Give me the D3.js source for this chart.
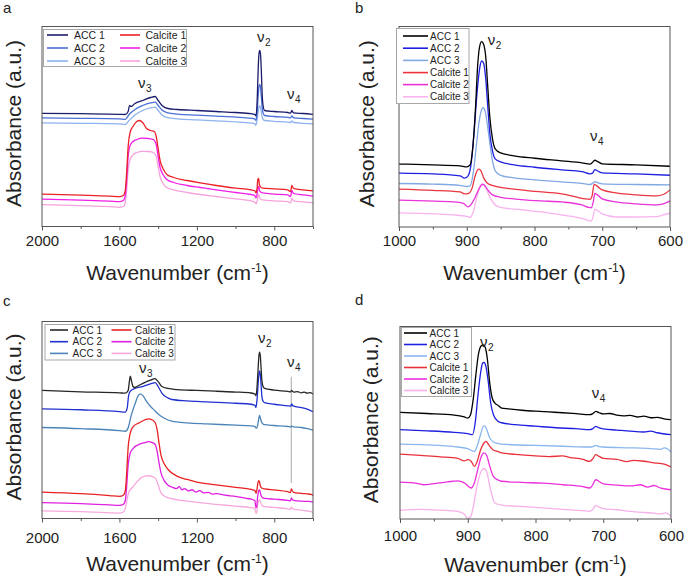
<!DOCTYPE html>
<html><head><meta charset="utf-8">
<script src="https://cdn.jsdelivr.net/npm/d3@7"></script>
<style>
body{margin:0;background:#fff}
svg{display:block}
text{font-family:"Liberation Sans",Arial,Helvetica,sans-serif;fill:#222}
</style>
</head><body>
<svg id="chart" width="685" height="582"></svg>
<script>
// ---------------- DATA ----------------
const seriesNames = ["ACC 1","ACC 2","ACC 3","Calcite 1","Calcite 2","Calcite 3"];
const ticksWide = [2000,1600,1200,800];
const minorWide = [1800,1400,1000,600];
const ticksNarrow = [1000,900,800,700,600];
const minorNarrow = [950,850,750,650];

// Panel a  [wavenumber, absorbance (a.u.)]
const a_ACC1 = [[2000,56.6],[1800,56.4],[1600,56.1],[1570,56],[1555,57.5],[1548,60.5],[1540,60],[1520,61.5],[1480,63],[1440,64.5],[1415,65],[1400,63],[1380,60.5],[1350,59],[1300,58.5],[1200,58],[1100,57.5],[1000,57],[920,56.4],[900,56],[895,55.3],[891,58],[887,67],[883,79],[879,86.5],[875,88],[871,86],[867,78],[863,67],[858,60.5],[850,58],[800,57.5],[730,57],[715,56.7],[710,58],[706,57.5],[700,56.8],[650,56.5],[600,56.1]];
const a_ACC2 = [[2000,54.3],[1800,54.1],[1600,53.8],[1570,53.6],[1550,56],[1520,58.5],[1480,60.5],[1440,61.8],[1415,62.2],[1400,60.5],[1380,58.2],[1350,56.8],[1300,56.2],[1200,55.7],[1100,55.2],[1000,54.7],[920,54.1],[900,53.7],[895,53],[891,55],[887,59.5],[883,65.5],[879,70],[875,71],[871,69.5],[867,65],[863,60],[858,56.8],[850,55.5],[800,55],[730,54.6],[715,54.3],[710,55.3],[706,55],[700,54.3],[650,54],[600,53.7]];
const a_ACC3 = [[2000,51.8],[1800,51.6],[1600,51.3],[1570,51],[1550,53],[1520,55.8],[1480,58],[1440,59.3],[1415,59.7],[1400,58],[1380,55.8],[1350,54.4],[1300,53.8],[1200,53.3],[1100,52.8],[1000,52.3],[920,51.7],[900,51.3],[895,50.6],[891,52],[887,54.5],[883,57.5],[879,59.8],[875,60.3],[871,59.5],[867,57],[863,55],[858,53.6],[850,53],[800,52.6],[730,52.2],[715,52],[710,52.8],[706,52.5],[700,52],[650,51.6],[600,51.3]];
const a_Cal1 = [[2000,16.2],[1800,15.7],[1650,15.2],[1600,14.9],[1580,15.5],[1570,18],[1562,28],[1555,40],[1545,47],[1530,50],[1510,52.5],[1497,53],[1480,52],[1460,49],[1440,48],[1420,47.5],[1410,45],[1400,39],[1390,33],[1375,29],[1355,26],[1320,24.5],[1250,23],[1183,21.8],[1100,20.5],[1000,19.2],[920,18.3],[900,17.8],[894,16.8],[889,19],[885,23.5],[881,24],[877,21],[871,19.8],[860,19.2],[800,18.8],[730,18.3],[718,17.5],[714,18],[710,20.5],[706,20],[700,19],[650,18.3],[600,17.8]];
const a_Cal2 = [[2000,13.7],[1800,13.2],[1650,12.7],[1600,12.4],[1580,13],[1570,15.5],[1562,24],[1555,35],[1545,40.5],[1530,42.5],[1510,43.5],[1480,44.2],[1450,44],[1425,43.5],[1410,41],[1400,35],[1390,29.5],[1375,26],[1355,23.5],[1320,22],[1250,20.5],[1183,19.5],[1100,18.3],[1000,17],[920,16],[900,15.3],[894,14.3],[889,16],[884,19.5],[880,20],[876,18],[870,17.2],[860,16.8],[800,16.2],[730,15.8],[718,15],[714,15.5],[710,18],[706,17.5],[700,16.5],[650,15.8],[600,15.2]];
const a_Cal3 = [[2000,10.9],[1800,10.4],[1650,9.9],[1600,9.6],[1580,10],[1570,12],[1562,19],[1555,28],[1545,33.5],[1530,35.8],[1510,37],[1480,37.6],[1450,37.5],[1425,37],[1410,35],[1400,30],[1390,25],[1375,21.5],[1355,19.5],[1320,18.3],[1250,17],[1183,16],[1100,15],[1000,13.8],[920,12.8],[900,12.2],[894,11.3],[889,12.5],[884,15],[880,16],[876,14.5],[870,13.6],[860,13.3],[800,12.8],[730,12.4],[718,11.8],[714,12.2],[710,14],[706,13.6],[700,12.8],[650,12.3],[600,11.8]];

// Panel b
const b_ACC1 = [[1000,31.4],[950,31],[910,30.5],[900,30],[895,31],[891,40],[887,60],[884,80],[881,90],[878,92.5],[875,91],[872,85],[869,70],[866,55],[862,44],[858,39],[850,37],[830,35.5],[800,34.3],[760,33],[730,32],[718,31.4],[715,32],[711,33.3],[706,32.5],[700,31.5],[650,31],[600,30.3]];
const b_ACC2 = [[1000,26.9],[950,26.5],[910,25.5],[903,24.4],[898,25.5],[893,33],[889,48],[885,66],[881,79],[878,82.8],[875,81.5],[872,74],[869,60],[866,47],[862,38],[858,34],[850,32.5],[830,31],[800,29.8],[760,28.5],[730,27.6],[718,26.5],[714,27],[711,28.6],[706,27.8],[700,27],[650,26.5],[600,25.8]];
const b_ACC3 = [[1000,21.7],[950,21.4],[910,20.8],[900,20.2],[895,20.5],[890,28],[886,40],[882,52],[878,58.5],[876,59.5],[873,58],[870,52],[866,42],[862,33],[858,28],[850,25.8],[830,24.5],[800,23.5],[760,22.5],[730,21.8],[718,21.2],[714,21.8],[711,22.6],[706,22],[700,21.5],[650,21.2],[600,21]];
const b_Cal1 = [[1000,18.9],[950,18.3],[910,17.5],[903,16.5],[897,16.8],[892,19.5],[888,25],[884,28.5],[882,28.9],[879,28],[875,24.5],[870,22],[860,20.5],[840,19.3],[800,17.8],[760,16.5],[735,14.7],[725,14],[718,13.8],[715,15.5],[712,21.3],[708,20.5],[700,18.5],[680,17],[650,16],[620,15.5],[610,16.2],[600,18.5]];
const b_Cal2 = [[1000,13.4],[960,13],[920,12.5],[905,11.8],[898,10],[893,11.5],[888,14.5],[882,19],[877,21.4],[874,21],[870,19],[862,16],[850,14.8],[820,13.7],[790,13],[760,12.5],[730,11],[720,9.8],[716,9.6],[713,13],[711,16.7],[707,16],[700,14],[680,12.5],[650,11.5],[620,11],[610,11.5],[600,13]];
const b_Cal3 = [[1000,7],[960,6.7],[920,6],[900,5.3],[895,4.8],[890,8],[885,15],[880,20],[876,21],[872,19.5],[866,15],[858,11],[850,9.8],[820,8.6],[790,7.5],[760,6],[730,4.3],[720,3.2],[716,3],[713,6],[711,8.9],[706,8],[700,6.5],[680,5],[650,5],[620,5.2],[610,6],[600,7]];

// Panel c
const c_ACC1 = [[2000,65],[1800,64.3],[1600,63.8],[1570,63.6],[1555,65],[1548,70],[1544,72.3],[1538,70],[1530,67],[1520,66.5],[1500,67.5],[1470,69],[1440,70.2],[1417,71],[1400,69.5],[1380,67],[1350,66],[1300,65.4],[1200,65],[1100,64.6],[1000,64.2],[920,63.7],[900,63.2],[895,62.4],[891,64.5],[887,70],[883,77],[879,83],[876,84.5],[872,82.5],[868,76],[864,70],[858,67],[850,66],[800,65.2],[730,64.5],[715,64.3],[711,65],[706,64.6],[700,64.2],[680,64.4],[660,63.8],[645,64.2],[630,63.6],[615,63.9],[600,63.2]];
const c_ACC2 = [[2000,55.7],[1800,55.2],[1600,54.3],[1570,54],[1560,56],[1553,62],[1545,64.5],[1520,66],[1480,67],[1440,68.3],[1415,69],[1400,67],[1380,63.5],[1350,61.2],[1330,60.4],[1250,59.7],[1150,59.2],[1000,58.5],[920,58],[900,57.5],[895,56.3],[891,58.5],[887,63],[883,69],[879,73.5],[876,74.9],[872,73],[868,67.5],[864,62],[858,59.5],[850,58.8],[800,58],[730,57.2],[715,57],[711,58.2],[706,57.5],[700,57],[660,56.3],[630,55.5],[600,54.2]];
const c_ACC3 = [[2000,46.2],[1800,45.6],[1600,44.6],[1570,44.3],[1555,46],[1540,52],[1520,58],[1505,62],[1494,63.3],[1480,62.5],[1460,59.5],[1440,57],[1420,55],[1400,53],[1370,51],[1330,49.4],[1250,48.5],[1150,48],[1000,47.4],[920,47],[900,46.6],[893,45.8],[888,46.5],[883,49],[879,51.5],[876,52.3],[872,51],[866,49],[858,48],[850,47.6],[800,47.2],[730,46.7],[715,46.5],[711,47],[706,46.7],[700,46.5],[660,46.2],[630,45.6],[600,44.8]];
const c_Cal1 = [[2000,13.4],[1800,12.6],[1650,11.6],[1600,11.2],[1580,11.8],[1570,14],[1562,24],[1555,36],[1545,43],[1530,46.5],[1500,48.5],[1470,50],[1450,50.6],[1430,50],[1415,48.6],[1405,45],[1395,38],[1385,32],[1370,28],[1350,25],[1300,21.4],[1250,19.8],[1200,18.5],[1100,17.1],[1000,15.8],[920,14.8],[900,14.2],[894,12.8],[889,15],[885,18],[880,19.2],[876,18.5],[872,16.5],[865,15.5],[850,15],[800,14.5],[730,13.6],[716,13.2],[712,15],[708,14.3],[700,13.3],[660,12.8],[630,12.5],[610,12.3],[600,11.7]];
const c_Cal2 = [[2000,8.1],[1800,7.6],[1650,6.9],[1600,6.7],[1580,7.2],[1570,9],[1562,17],[1555,27],[1545,33],[1530,35.5],[1500,37.5],[1470,38.5],[1450,39],[1430,38.5],[1415,37.5],[1405,34],[1395,28],[1385,23],[1370,19.5],[1350,17],[1330,16],[1305,15.2],[1290,16.2],[1278,14.6],[1262,15.2],[1245,14],[1225,14.6],[1205,13.4],[1185,14.1],[1165,13],[1140,13.3],[1120,12.4],[1100,12.6],[1050,11.8],[1000,11.2],[950,10.3],[920,9.8],[900,9],[895,5.5],[891,6],[887,10],[882,13.5],[877,14.6],[873,13.5],[868,11.5],[860,10.5],[850,10.2],[800,9.8],[730,9.2],[716,8.9],[712,10.5],[708,9.8],[700,9.2],[660,8.8],[630,8.7],[610,8.6],[600,8.3]];
const c_Cal3 = [[2000,3.9],[1800,3.5],[1650,2.9],[1600,2.7],[1580,3.3],[1570,5],[1560,10],[1550,13.8],[1535,15.5],[1510,18.5],[1490,20.5],[1470,21.5],[1450,21.7],[1430,21.3],[1415,20.5],[1405,18.5],[1395,15.5],[1385,13],[1370,11.5],[1340,10.3],[1300,9.5],[1250,8.8],[1200,8.2],[1100,7.2],[1000,6.3],[920,5.5],[900,5.2],[895,2.7],[891,3],[887,6],[882,8.8],[877,9.5],[872,8.5],[866,7],[858,6.3],[850,6],[800,5.6],[730,4.9],[716,4.6],[712,5.9],[708,5.3],[700,4.8],[660,4.2],[630,3.8],[610,3.5],[600,3.1]];
const c_marker = [[712,18],[712,72]];

// Panel d
const d_ACC1 = [[1000,55.4],[960,54.8],[920,54],[905,53],[900,52.4],[896,54],[892,62],[888,75],[884,86],[880,90],[877,90.5],[874,89],[871,83],[868,72],[864,63],[860,60.2],[855,59],[850,57.6],[840,57.2],[820,56.5],[800,56],[780,55.6],[760,55.2],[740,54.7],[720,54.2],[716,54.6],[711,55.9],[706,55.2],[700,54.6],[690,54.8],[680,54],[670,53.6],[660,53.8],[650,53],[640,53.4],[630,52.6],[620,52.8],[610,52],[600,51.6]];
const d_ACC2 = [[1000,46.4],[960,45.8],[920,45],[900,44.4],[893,43.8],[889,50],[885,64],[881,76],[878,81],[876,81.3],[873,79],[870,72],[866,60],[862,54],[855,50.7],[850,50],[830,49],[800,48.2],[770,47.4],[740,46.9],[720,46.4],[716,46.8],[711,48.1],[706,47.3],[700,46.8],[680,46.2],[660,45.6],[640,45.2],[630,45.6],[620,44.8],[600,43.8]];
const d_ACC3 = [[1000,38.9],[960,38.5],[920,37.6],[900,36.5],[890,35.1],[886,38],[881,44],[877,48.2],[875,48.4],[872,46.5],[868,42.5],[862,40],[855,39.2],[840,38.7],[800,38.2],[760,37.8],[720,37.4],[716,37.5],[711,38.2],[706,37.6],[700,37.4],[660,37],[630,36.6],[615,36.2],[610,37],[605,36.4],[600,34.8]];
const d_Cal1 = [[1000,33.7],[970,33],[940,32.3],[915,31.5],[905,30.2],[900,30.8],[895,30],[890,27.3],[886,30],[881,36],[876,39.5],[873,40.3],[869,38.5],[863,36],[855,35],[850,34.3],[830,33.6],[800,32.8],[780,32.4],[760,32.8],[750,32],[730,31],[720,29.9],[716,31],[711,33.4],[706,32.5],[700,31.5],[680,31],[665,29.8],[655,30.5],[640,30],[625,29.2],[610,28.5],[600,27]];
const d_Cal2 = [[1000,19.2],[980,18.8],[965,17.8],[950,18.4],[930,19.3],[915,19.8],[905,18.8],[895,16.1],[890,19],[885,26],[880,32.5],[876,34.3],[872,33],[868,28],[862,22],[855,20.2],[850,19.6],[820,19],[790,18.6],[760,17.8],[730,16.8],[720,16.1],[716,17.5],[711,20.4],[706,19.5],[700,18.2],[680,17.6],[660,17.2],[645,17.8],[635,16.6],[625,17.4],[615,16],[600,15.2]];
const d_Cal3 = [[1000,4.5],[970,5],[940,4.6],[915,4],[905,2.5],[900,0.3],[896,1],[892,6],[888,14],[883,22],[879,25.5],[876,26.1],[872,24.5],[868,18],[864,12],[860,8.3],[850,7.2],[820,6.5],[790,5.8],[760,5],[730,4.3],[720,4],[716,4.8],[711,6.9],[706,6.2],[700,5.4],[680,4.8],[660,4],[640,3.4],[625,3],[615,2.6],[608,3.2],[600,1.4]];

// band labels [wavenumber, absorbance, subscript]
const a_bands = [[889,92.5,"2"],[1504,69.5,"3"],[734,64,"4"]];
const b_bands = [[869,90.7,"2"],[718,43,"4"]];
const c_bands = [[884,89,"2"],[1499,74,"3"],[734,77,"4"]];
const d_bands = [[882,89.4,"2"],[717,63,"4"]];

// ---------------- LAYOUT / STYLE ----------------
const panels = [
  {letter:"a", lx:3, ly:13, l:42, r:313, t:26.5, b:226.5, dom:[2000,600], ticks:ticksWide, minor:minorWide,
   series:[a_ACC1,a_ACC2,a_ACC3,a_Cal1,a_Cal2,a_Cal3],
   colors:["#1c1c6c","#4a6fd6","#8db2ee","#ec2027","#f01ee6","#f6a3dd"],
   bands:a_bands, ytx:21, xtb:280, tlb:245.5,
   legend:{x:43.5,y:29.5,w:143,h:37, cols:2, rows:[35,48,61], colX:[[47,68,74],[120,140,145.5]], fs:10.5}},
  {letter:"b", lx:355, ly:13, l:399, r:670, t:26.5, b:227, dom:[1000,600], ticks:ticksNarrow, minor:minorNarrow,
   series:[b_ACC1,b_ACC2,b_ACC3,b_Cal1,b_Cal2,b_Cal3],
   colors:["#000000","#1f1fe0","#80a8e2","#ea3440","#e833d8","#f7b4ee"],
   bands:b_bands, ytx:374, xtb:280, tlb:246,
   legend:{x:396.5,y:28.5,w:72.5,h:75, cols:1, rows:[36,48.2,60.4,72.6,84.6,96.8], colX:[[403,428,430]], fs:10}},
  {letter:"c", lx:3, ly:306, l:42, r:313, t:321.5, b:518.5, dom:[2000,600], ticks:ticksWide, minor:minorWide,
   series:[c_ACC1,c_ACC2,c_ACC3,c_Cal1,c_Cal2,c_Cal3],
   colors:["#262626","#2030d0","#4b84b8","#e82222","#e020e0","#f7a8dc"],
   bands:c_bands, marker:c_marker, ytx:21, xtb:571, tlb:543,
   legend:{x:45,y:324.5,w:130,h:35.5, cols:2, rows:[330,341.7,353.4], colX:[[50,68,72.5],[111.5,131.5,135]], fs:10}},
  {letter:"d", lx:355, ly:305, l:400, r:671, t:326.5, b:519, dom:[1000,600], ticks:ticksNarrow, minor:minorNarrow,
   series:[d_ACC1,d_ACC2,d_ACC3,d_Cal1,d_Cal2,d_Cal3],
   colors:["#000000","#1f1fe0","#8ab6ee","#e8303a","#ec30dc","#f6b0ea"],
   bands:d_bands, ytx:378, xtb:572, tlb:541,
   legend:{x:401.5,y:327.5,w:70,h:69, cols:1, rows:[333,344.5,356,367.5,379,390.5], colX:[[404,427,429.5]], fs:10}}
];

const svg = d3.select("#chart");
const axisColor = "#555";

panels.forEach(p => {
  const x = d3.scaleLinear().domain(p.dom).range([p.l, p.r]);
  const y = d3.scaleLinear().domain([0,100]).range([p.b, p.t]);
  const g = svg.append("g");

  g.append("text").attr("x", p.lx).attr("y", p.ly).attr("font-size", 15).text(p.letter);

  const cid = "clip" + p.letter;
  svg.append("clipPath").attr("id", cid).append("rect")
    .attr("x", p.l).attr("y", p.t).attr("width", p.r - p.l).attr("height", p.b - p.t);

  if (p.marker) {
    g.append("path").attr("d", d3.line().x(d => x(d[0])).y(d => y(d[1]))(p.marker))
      .attr("stroke", "#b8b8b8").attr("stroke-width", 1.2).attr("fill", "none");
  }

  const line = d3.line().x(d => x(d[0])).y(d => y(d[1])).curve(d3.curveMonotoneX);
  const lg = g.append("g").attr("clip-path", `url(#${cid})`);
  p.series.map((s,i)=>({s,i})).reverse().forEach(({s,i}) => {
    lg.append("path").attr("d", line(s)).attr("fill", "none")
      .attr("stroke", p.colors[i]).attr("stroke-width", 1.3).attr("stroke-linejoin", "round");
  });

  g.append("rect").attr("x", p.l).attr("y", p.t).attr("width", p.r - p.l).attr("height", p.b - p.t)
    .attr("fill", "none").attr("stroke", axisColor).attr("stroke-width", 1);

  const ax = g.append("g").attr("transform", `translate(0,${p.b})`)
    .call(d3.axisBottom(x).tickValues(p.ticks).tickSize(4).tickSizeOuter(0).tickPadding(3).tickFormat(d3.format("d")));
  ax.select(".domain").remove();
  ax.selectAll("line").attr("stroke", axisColor);
  ax.selectAll("text").attr("font-size", 15).attr("fill", "#222")
    .attr("font-family", '"Liberation Sans",Arial,sans-serif')
    .attr("dy", null).attr("y", p.tlb - p.b);
  const mx = g.append("g").attr("transform", `translate(0,${p.b})`)
    .call(d3.axisBottom(x).tickValues(p.minor).tickSize(2.5).tickSizeOuter(0).tickFormat(""));
  mx.select(".domain").remove();
  mx.selectAll("line").attr("stroke", axisColor);

  const xt = g.append("text").attr("x", (p.l + p.r) / 2).attr("y", p.xtb)
    .attr("text-anchor", "middle").attr("font-size", 21);
  xt.append("tspan").text("Wavenumber (cm");
  xt.append("tspan").attr("font-size", 12).attr("dy", -8).text("-1");
  xt.append("tspan").attr("dy", 8).text(")");
  g.append("text").attr("transform", `translate(${p.ytx},${(p.t + p.b) / 2 - 3}) rotate(-90)`)
    .attr("text-anchor", "middle").attr("font-size", 21).text("Absorbance (a.u.)");

  p.bands.forEach(bd => {
    const t = g.append("text").attr("x", x(bd[0])).attr("y", y(bd[1])).attr("font-size", 15)
      .attr("font-family", '"DejaVu Sans","Liberation Sans",sans-serif');
    t.append("tspan").text("ν");
    t.append("tspan").attr("font-size", 10).attr("dy", 4).attr("dx", 0.5).text(bd[2]);
  });

  const L = p.legend;
  g.append("rect").attr("x", L.x).attr("y", L.y).attr("width", L.w).attr("height", L.h)
    .attr("fill", "#fff").attr("stroke", "#a8a8a8").attr("stroke-width", 1);
  seriesNames.forEach((name, i) => {
    const col = L.cols === 2 ? Math.floor(i / 3) : 0;
    const row = L.cols === 2 ? i % 3 : i;
    const cx = L.colX[col];
    const ry = L.rows[row];
    g.append("line").attr("x1", cx[0]).attr("x2", cx[1]).attr("y1", ry).attr("y2", ry)
      .attr("stroke", p.colors[i]).attr("stroke-width", 1.6);
    g.append("text").attr("x", cx[2]).attr("y", ry + L.fs * 0.36).attr("font-size", L.fs)
      .attr("fill", "#333").text(name);
  });
});
</script>
</body></html>
